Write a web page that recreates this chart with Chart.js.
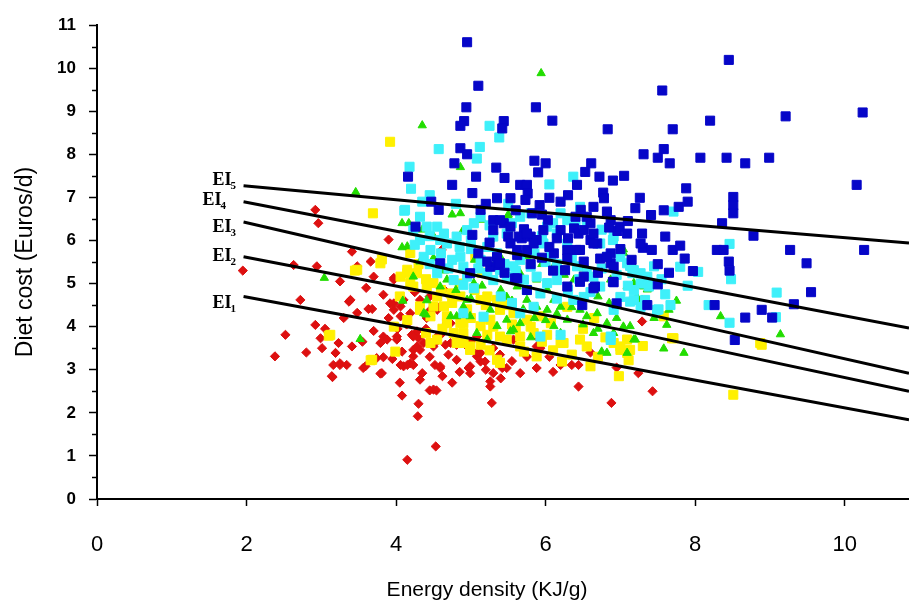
<!DOCTYPE html>
<html>
<head>
<meta charset="utf-8">
<script src="https://cdn.jsdelivr.net/npm/chart.js@4/dist/chart.umd.min.js"></script>
<style>
  html, body { margin: 0; padding: 0; background: #fff; }
  #wrap { width: 909px; height: 609px; position: relative; }
</style>
</head>
<body>
<div id="wrap"><canvas id="chart"></canvas></div>
<script>
// energy density (KJ/g), diet cost (Euros/d) per group
const redPts = [
  [1.95,5.30],[2.92,6.71],[2.96,6.40],[3.90,6.02],[3.41,5.74],[3.66,5.51],[3.48,5.40],[2.94,5.40],[2.63,5.43],
  [3.37,4.58],[3.25,5.05],[2.72,4.62],[3.70,5.16],[3.97,5.13],[3.83,4.74],[3.97,4.54],[4.06,4.47],[2.92,4.04],
  [2.52,3.81],[2.38,3.31],[2.99,3.73],[3.01,3.50],[3.23,3.62],[3.41,3.54],[3.19,3.39],[3.25,3.15],[3.14,2.85],
  [3.59,3.08],[3.74,3.27],[3.83,3.77],[3.79,3.62],[4.01,3.77],[4.10,3.08],[4.23,3.46],[4.19,3.15],[4.32,2.77],
  [4.50,2.54],[4.59,3.08],[4.81,3.23],[4.81,3.58],[4.28,3.89],[4.41,4.20],[4.55,4.39],[4.68,4.08],[4.55,3.77],
  [3.15,2.83],[3.16,3.11],[3.25,3.11],[3.34,3.11],[3.79,2.91],[3.56,3.04],[3.39,4.62],[3.48,4.32],[3.63,4.41],
  [3.68,4.41],[4.08,2.40],[4.45,2.52],[4.54,2.52],[4.30,2.21],[4.29,1.92],[4.53,1.22],[4.15,0.91],[3.88,3.70],
  [4.21,3.81],[4.30,3.73],[4.28,3.54],[4.08,3.42],[3.83,3.29],[4.23,3.31],[4.06,3.11],[4.15,3.11],[4.23,3.11],
  [3.81,2.92],[4.35,2.92],[4.52,3.62],[4.66,3.58],[4.73,3.62],[4.52,3.11],[4.59,3.04],[4.97,3.04],[4.99,2.92],
  [5.08,3.31],[5.13,3.19],[5.19,3.19],[5.30,2.92],[5.26,2.73],[5.26,2.61],[5.28,2.23],[5.42,3.04],[5.48,3.04],
  [5.66,2.92],[5.88,3.04],[6.20,3.11],[6.35,3.11],[6.44,3.11],[6.44,2.61],[6.88,2.23],[7.24,2.92],[5.93,3.50],
  [5.88,3.77],[5.30,3.50],[5.39,3.35],[4.84,3.62],[5.08,3.77],[7.29,4.12],[7.43,2.50],[4.99,3.08],[5.13,3.39],
  [4.61,5.78],[3.97,5.09],[3.92,4.54],[3.97,4.39],[4.10,4.62],[4.19,4.31],[4.06,4.24],[4.32,4.62],[4.37,4.31],
  [4.46,4.39],[4.59,4.47],[4.64,4.86],[4.73,4.08],[4.01,3.70],[4.23,3.77],[4.37,3.62],[4.32,3.46],[4.50,3.54],
  [4.95,3.54],[5.08,3.39],[5.57,3.70],[5.88,3.54],
  [3.90,4.20],[4.02,3.95],[4.14,4.05],[4.40,3.95],[4.62,3.85],[4.45,3.30],[4.70,3.35],[4.85,2.95],[3.70,3.90],
  [3.55,3.65],[3.95,3.25],[4.62,2.85],[5.00,3.65],[5.20,3.00],[5.55,3.20],[5.75,3.30],[6.05,3.30],[6.10,2.95],
  [4.90,4.30],[4.25,4.80],[4.45,4.70],[3.60,4.90],[3.30,4.20],[3.05,3.95],[2.80,3.40],[6.60,3.40],[6.95,3.05],
  [5.40,2.80],[4.75,2.70],[4.05,2.70]
];
const yellowPts = [
  [3.92,8.29],[3.69,6.63],[3.12,3.81],[3.68,3.23],[3.99,3.42],[3.48,5.32],[4.15,5.24],[4.19,5.01],[4.32,4.47],
  [4.50,4.47],[4.68,4.24],[4.90,4.08],[4.90,3.62],[3.97,4.00],[3.79,5.47],[3.10,3.79],[3.66,3.22],[3.45,5.30],
  [3.81,5.56],[4.90,3.85],[5.22,3.81],[5.39,3.77],[5.66,3.77],[5.84,3.85],[6.02,3.81],[4.81,3.62],[4.99,3.46],
  [5.13,3.58],[5.35,3.23],[5.39,3.16],[5.71,3.42],[5.88,3.31],[6.24,3.62],[6.22,3.19],[6.60,3.08],[6.98,2.85],
  [7.00,3.54],[7.09,3.39],[4.46,3.62],[4.55,3.70],[8.51,2.42],[8.87,3.62],[7.69,3.73],[7.11,3.22],[6.20,3.62],
  [5.06,5.62],[8.89,3.58],[7.71,3.73],[7.58,4.24],[4.19,5.71],[4.15,5.32],[4.28,5.24],[4.06,5.16],[4.23,4.93],
  [4.50,5.01],[4.55,4.70],[5.08,5.63],[5.13,4.62],[5.22,4.70],[5.35,4.62],[5.39,4.39],[5.26,4.16],[5.13,4.01],
  [5.48,3.70],[5.66,3.54],[4.86,4.08],[4.77,3.85],[4.90,3.62],[4.99,3.54],[4.32,4.39],[4.46,4.24],[4.64,4.47],
  [4.68,4.08],[6.29,4.46],[6.46,3.70],[6.55,3.54],[6.91,3.62],[7.09,3.70],[7.00,3.46],[7.13,3.46],[5.57,4.31],
  [5.75,4.16],[5.93,4.24],[6.07,4.08],[4.41,4.93],[4.73,4.77],[4.86,4.70],
  [4.40,5.10],[4.60,4.85],[4.75,4.55],[4.95,4.40],[5.05,4.85],[5.20,4.50],[5.45,4.50],[5.55,4.05],[5.80,4.00],
  [5.95,3.65],[6.10,3.45],[6.35,3.35],[6.70,3.30],[6.80,3.75],[5.25,3.45],[5.60,3.95],[4.62,3.95],[4.40,3.85],
  [4.15,4.15],[4.05,4.70],[5.00,4.20],[5.30,4.00],[6.50,3.95],[6.65,4.20],[7.30,3.55],[4.85,5.00],[5.15,5.25],
  [4.30,5.45]
];
const greenPts = [
  [5.94,9.88],[4.35,8.67],[4.86,7.70],[3.46,7.12],[3.04,5.13],[3.52,3.71],[4.15,5.86],[4.08,6.40],[4.75,6.60],
  [4.89,6.22],[4.32,5.51],[4.40,4.28],[4.09,4.60],[4.17,6.40],[5.15,6.48],[4.08,5.84],[4.50,5.59],[5.26,6.02],
  [5.50,6.60],[5.75,5.63],[4.68,5.09],[4.23,5.16],[4.41,4.61],[4.73,4.24],[4.99,4.24],[5.26,4.39],[5.35,4.01],
  [5.48,4.16],[5.57,3.93],[5.66,4.08],[5.48,4.69],[5.62,4.93],[5.75,4.62],[5.88,4.46],[6.02,4.39],[6.11,4.62],
  [6.20,4.46],[6.29,4.77],[6.42,4.62],[6.46,4.39],[6.55,4.24],[6.69,4.31],[6.82,4.08],[6.64,3.85],[6.91,3.85],
  [7.04,4.00],[7.18,3.70],[7.09,3.39],[6.82,3.39],[5.88,5.09],[6.02,4.86],[6.11,5.40],[6.87,5.09],[7.09,4.93],
  [7.22,4.69],[7.36,4.86],[7.04,5.79],[7.18,5.40],[6.11,4.01],[6.29,4.16],[5.08,3.85],[5.22,3.70],[4.81,4.24],
  [4.90,4.46],[4.37,4.31],[8.34,4.24],[9.14,3.82],[7.85,3.39],[7.62,4.04],[6.75,3.42],[4.86,6.63],[5.50,6.56],
  [5.50,6.25],[7.58,3.49],[7.20,3.70],[7.13,4.01],[7.18,5.01],[7.31,4.93],[7.29,4.62],[7.65,4.39],[7.04,5.71],
  [5.53,3.89],[5.04,5.01],[5.30,5.40],[5.66,5.24],[6.38,5.09],[4.59,4.93],[4.95,4.62],
  [4.65,5.30],[4.80,4.85],[5.00,4.65],[5.15,4.95],[5.40,4.85],[5.55,4.60],[5.70,4.40],[5.85,4.20],[6.00,4.15],
  [6.15,4.30],[6.35,4.45],[6.50,4.05],[6.70,3.95],[6.95,4.20],[5.95,5.45],[6.25,5.20],[6.50,5.35],[6.70,4.70],
  [6.85,4.55],[5.40,5.60],[5.20,5.80],[4.50,6.10],[4.35,6.25],[5.05,5.55],[6.20,3.85],[5.80,3.75],[7.45,4.20],
  [7.75,4.60]
];
const cyanPts = [
  [5.25,8.66],[5.38,8.39],[4.57,8.12],[5.12,8.17],[5.08,7.90],[4.18,7.71],[6.37,7.48],[4.35,6.90],[4.11,6.69],
  [8.46,5.92],[7.80,5.39],[8.04,5.27],[8.48,5.10],[9.09,4.79],[9.08,4.22],[8.46,4.09],[8.18,4.50],[7.67,4.50],
  [7.51,4.40],[7.13,5.41],[7.16,5.24],[7.38,4.93],[7.33,4.62],[7.13,4.58],[6.87,3.69],[6.20,3.81],[5.93,3.77],
  [6.90,6.01],[7.27,5.24],[7.18,4.85],[7.40,5.00],[7.27,4.46],[7.49,4.39],[7.71,6.67],[4.12,6.71],[4.32,6.55],
  [4.23,6.24],[4.41,6.32],[4.55,6.32],[4.64,6.16],[4.68,5.93],[4.75,5.55],[4.86,5.62],[4.90,5.39],[4.32,6.01],
  [4.46,5.78],[4.37,5.62],[4.77,5.08],[4.90,4.97],[5.04,4.89],[4.95,5.16],[5.13,5.55],[5.22,5.24],[5.30,5.08],
  [5.39,5.31],[5.48,5.16],[5.48,6.16],[5.30,6.09],[5.22,5.85],[5.66,5.55],[5.80,5.39],[5.88,5.16],[6.02,5.01],
  [6.15,5.08],[6.20,5.31],[5.93,4.77],[5.75,4.85],[6.02,6.32],[6.15,6.16],[6.29,5.93],[5.97,5.93],[6.46,6.78],
  [6.55,6.47],[6.73,5.93],[6.82,5.62],[6.91,6.09],[7.00,5.62],[7.09,5.47],[7.18,5.31],[7.27,5.00],[7.36,5.16],
  [6.64,5.16],[6.73,4.93],[6.37,4.62],[6.51,4.69],[6.91,4.39],[7.00,4.69],[7.18,4.62],[6.87,3.77],[5.66,4.31],
  [5.84,4.46],[5.17,4.23],[4.90,4.31],[4.59,6.01],[4.81,6.09],[4.95,6.24],[5.13,6.55],[5.04,6.40],[5.66,6.55],
  [5.80,6.63],[6.20,6.63],[6.29,6.47],[5.57,5.40],[5.71,5.09],[6.07,5.62],[6.42,5.40],[6.55,5.24],[4.55,5.24],
  [4.45,6.10],[4.60,5.70],[4.70,5.35],[5.00,5.80],[5.10,5.35],[5.35,5.70],[5.45,5.45],[5.60,5.30],[5.85,5.70],
  [6.00,5.50],[6.15,5.45],[6.35,5.60],[6.45,5.10],[6.60,4.80],[6.75,5.35],[6.95,5.20],[7.10,4.95],[7.45,5.40],
  [7.55,5.10],[5.95,6.10],[6.10,6.40],[6.40,6.35],[6.75,6.25],[5.55,6.40],[5.25,6.35],[5.00,6.00],[4.85,5.85],
  [4.25,5.90],[4.45,5.45],[5.40,4.70],[5.55,4.55],[6.15,4.65],[6.30,4.85],[7.60,4.75],[7.90,4.95],[4.20,7.20],
  [4.45,7.05],[4.80,6.85],[6.05,7.30],[5.50,6.85]
];
const bluePts = [
  [4.95,10.60],[8.45,10.19],[5.10,9.59],[7.56,9.48],[4.94,9.09],[5.87,9.09],[10.24,8.97],[9.21,8.88],[4.91,8.77],
  [4.86,8.66],[5.44,8.77],[5.42,8.60],[6.09,8.78],[6.83,8.58],[7.70,8.58],[8.20,8.78],[4.86,8.14],[4.95,8.00],
  [4.78,7.79],[5.34,7.69],[6.00,7.79],[5.90,7.58],[7.31,8.00],[7.58,8.12],[7.50,7.92],[7.66,7.79],[8.07,7.92],
  [8.42,7.92],[8.67,7.79],[8.99,7.92],[10.16,7.29],[6.61,7.79],[6.53,7.59],[6.72,7.48],[6.90,7.39],[6.42,7.29],
  [5.07,7.48],[4.75,7.29],[5.02,7.10],[5.66,7.29],[5.75,7.29],[5.76,7.09],[5.73,6.94],[5.35,6.98],[5.53,6.98],
  [6.05,6.99],[6.77,7.11],[6.78,6.98],[7.26,6.99],[7.88,7.21],[7.90,6.90],[7.78,6.78],[8.51,7.01],[8.51,6.82],
  [8.51,6.63],[7.58,6.70],[7.41,6.59],[5.92,6.82],[5.82,6.63],[6.47,6.71],[6.64,6.78],[6.82,6.67],[6.87,6.47],
  [5.13,6.71],[6.03,6.47],[5.30,6.47],[5.44,6.40],[5.30,6.24],[5.50,6.09],[5.71,6.26],[5.80,6.09],[5.88,6.01],
  [5.68,6.05],[6.20,6.24],[6.38,6.28],[6.44,6.16],[6.96,6.22],[7.29,6.16],[7.30,5.83],[7.42,5.78],[7.60,6.09],
  [7.70,5.78],[7.80,5.88],[8.78,6.11],[8.29,5.78],[8.38,5.78],[8.36,6.40],[9.27,5.78],[10.26,5.78],[9.49,5.47],
  [7.86,5.58],[7.97,5.29],[8.45,5.51],[8.46,5.30],[9.55,4.80],[6.91,5.03],[7.50,4.98],[6.66,4.93],[6.29,4.93],
  [6.51,5.16],[6.60,6.01],[6.69,5.93],[6.87,5.70],[6.87,5.47],[6.73,5.58],[6.29,5.78],[6.41,5.78],[6.51,5.51],
  [5.75,5.78],[5.62,5.66],[5.53,5.93],[5.84,5.93],[5.26,5.39],[5.37,5.43],[5.59,5.12],[6.49,4.50],[7.36,4.50],
  [8.26,4.50],[8.67,4.21],[8.89,4.39],[9.03,4.21],[9.32,4.52],[8.53,3.69],[4.16,7.48],[4.47,6.90],[4.57,6.71],
  [4.26,6.32],[4.59,5.47],[5.02,6.13],[5.39,6.47],[5.53,6.32],[5.64,6.09],[5.75,6.16],[5.97,6.24],[5.62,5.78],
  [5.35,5.62],[5.22,5.51],[5.39,5.47],[4.99,5.24],[5.62,5.12],[5.75,4.85],[6.26,5.31],[6.46,5.04],[6.64,4.89],
  [6.90,5.04],[6.95,4.54],[6.11,5.70],[6.29,5.58],[6.46,5.78],[6.64,5.93],[6.82,5.62],[6.91,5.39],[6.51,6.24],
  [6.64,6.16],[7.27,5.93],[6.99,6.32],[7.09,6.16],
  [5.20,6.85],[5.60,6.70],[5.95,6.60],[6.20,6.90],[6.40,6.55],[6.60,6.40],[6.85,6.30],[7.10,6.45],[7.20,6.75],
  [6.15,6.05],[6.30,6.05],[6.05,5.85],[5.95,5.60],[5.80,5.45],[6.10,5.30],[6.70,5.25],[7.00,5.80],[7.15,5.55],
  [7.50,5.45],[7.65,5.25],[5.45,5.25],[5.10,5.70],[5.25,5.95],[6.55,6.55],[6.30,7.05],[7.05,7.50],[5.45,7.45],
  [5.85,7.85]
];

// iso energy intake lines EI1..EI5
const eiX = [1.96, 4.73, 7.00, 10.86];
const ei1 = [4.70, 3.81, 3.08, 1.84];
const ei2 = [5.62, 4.70, 3.93, 2.50];
const ei3 = [6.43, 5.32, 4.43, 2.92];
const ei4 = [6.90, 5.97, 5.24, 3.97];
const ei5 = [7.27, 6.83, 6.50, 5.94];
const eiLines = [ei1, ei2, ei3, ei4, ei5];
const eiNames = ['1', '2', '3', '4', '5'];

const xTicks = [0, 2, 4, 6, 8, 10];
const yTicks = [0, 1, 2, 3, 4, 5, 6, 7, 8, 9, 10, 11];
const xTitle = 'Energy density (KJ/g)';

function toXY(arr) {
    return arr.map((p) => ({ x: p[0], y: p[1] }));
}

function pointSet(label, pts, color, style, radius, order) {
    return {
        label,
        data: toXY(pts),
        backgroundColor: color,
        borderColor: color,
        pointStyle: style,
        pointRadius: radius,
        pointBorderWidth: 1,
        order,
    };
}

const lineSets = eiLines.map((vals, i) => ({
    label: 'EI' + eiNames[i],
    type: 'line',
    data: eiX.map((x, j) => ({ x, y: vals[j] })),
    borderColor: '#000',
    borderWidth: 3,
    pointRadius: 0,
    showLine: true,
    fill: false,
    tension: 0,
    order: 0,
}));

// label nudges in px: [dx from line start, dy from line start]
const labelNudge = [[-31, 12], [-31, 4], [-31, 10], [-41, 3], [-31, -1]];

const eiLabels = {
    id: 'eiLabels',
    afterDatasetsDraw(chart) {
        const { ctx, scales } = chart;
        ctx.save();
        ctx.fillStyle = '#000';
        ctx.textBaseline = 'alphabetic';
        eiLines.forEach((vals, i) => {
            const px = scales.x.getPixelForValue(eiX[0]) + labelNudge[i][0];
            const py = scales.y.getPixelForValue(vals[0]) + labelNudge[i][1];
            ctx.font = "bold 18px 'Liberation Serif', 'Times New Roman', serif";
            ctx.fillText('EI', px, py);
            const w = ctx.measureText('EI').width;
            ctx.font = "bold 11px 'Liberation Serif', 'Times New Roman', serif";
            ctx.fillText(eiNames[i], px + w - 1, py + 4);
        });
        ctx.restore();
    },
};

// minor y ticks + x axis title (the original plot runs past the right edge,
// so the title sits a little left of the visible centre)
const axisExtras = {
    id: 'axisExtras',
    afterDraw(chart) {
        const { ctx, scales, chartArea } = chart;
        ctx.save();
        ctx.strokeStyle = '#000';
        ctx.lineWidth = 1.5;
        for (let i = 0; i < yTicks.length - 1; i++) {
            const v = (yTicks[i] + yTicks[i + 1]) / 2;
            const py = Math.round(scales.y.getPixelForValue(v)) + 0.5;
            ctx.beginPath();
            ctx.moveTo(chartArea.left - 5, py);
            ctx.lineTo(chartArea.left, py);
            ctx.stroke();
        }
        ctx.fillStyle = '#000';
        ctx.font = "21px 'Liberation Sans', Arial, sans-serif";
        ctx.textAlign = 'center';
        ctx.textBaseline = 'middle';
        ctx.fillText(xTitle, (chartArea.left + chartArea.right) / 2 - 16, 590);
        ctx.restore();
    },
};

new Chart(document.getElementById('chart'), {
    type: 'scatter',
    data: {
        datasets: [
            ...lineSets,
            pointSet('Q5', bluePts, '#0606c8', 'rect', 6.4, 1),
            pointSet('Q4', cyanPts, '#3ef0fa', 'rect', 6.4, 2),
            pointSet('Q3', greenPts, '#22dd00', 'triangle', 4.8, 3),
            pointSet('Q2', yellowPts, '#fff000', 'rect', 6.4, 4),
            pointSet('Q1', redPts, '#dd1010', 'rectRot', 4.6, 5),
        ],
    },
    options: {
        responsive: true,
        maintainAspectRatio: false,
        animation: false,
        layout: { autoPadding: false, padding: { top: 25, right: 0, bottom: 0, left: 0 } },
        plugins: {
            legend: { display: false },
            tooltip: { enabled: false },
        },
        scales: {
            x: {
                type: 'linear',
                min: 0,
                max: 10.86,
                afterFit(scale) {
                    scale.height = 110;
                    scale.paddingLeft = 0;
                    scale.paddingRight = 0;
                },
                afterBuildTicks(scale) { scale.ticks = xTicks.map((v) => ({ value: v })); },
                grid: {
                    drawOnChartArea: false,
                    tickLength: 7,
                    tickColor: '#000',
                    tickWidth: 1.5,
                },
                border: { color: '#000', width: 2 },
                ticks: {
                    color: '#000',
                    padding: 26,
                    maxRotation: 0,
                    font: { family: "'Liberation Sans', Arial, sans-serif", size: 22 },
                },
                title: { display: false },
            },
            y: {
                type: 'linear',
                min: 0,
                max: 11,
                afterFit(scale) { scale.width = 97; },
                afterBuildTicks(scale) { scale.ticks = yTicks.map((v) => ({ value: v })); },
                grid: {
                    drawOnChartArea: false,
                    tickLength: 8,
                    tickColor: '#000',
                    tickWidth: 1.5,
                },
                border: { color: '#000', width: 2 },
                ticks: {
                    color: '#000',
                    padding: 13,
                    font: { family: "'Liberation Sans', Arial, sans-serif", size: 17, weight: 'bold' },
                },
                title: {
                    display: true,
                    text: 'Diet cost (Euros/d)',
                    color: '#000',
                    padding: { top: 12, bottom: 0 },
                    font: { family: "'Liberation Sans', Arial, sans-serif", size: 23 },
                },
            },
        },
    },
    plugins: [eiLabels, axisExtras],
});
</script>
</body>
</html>
